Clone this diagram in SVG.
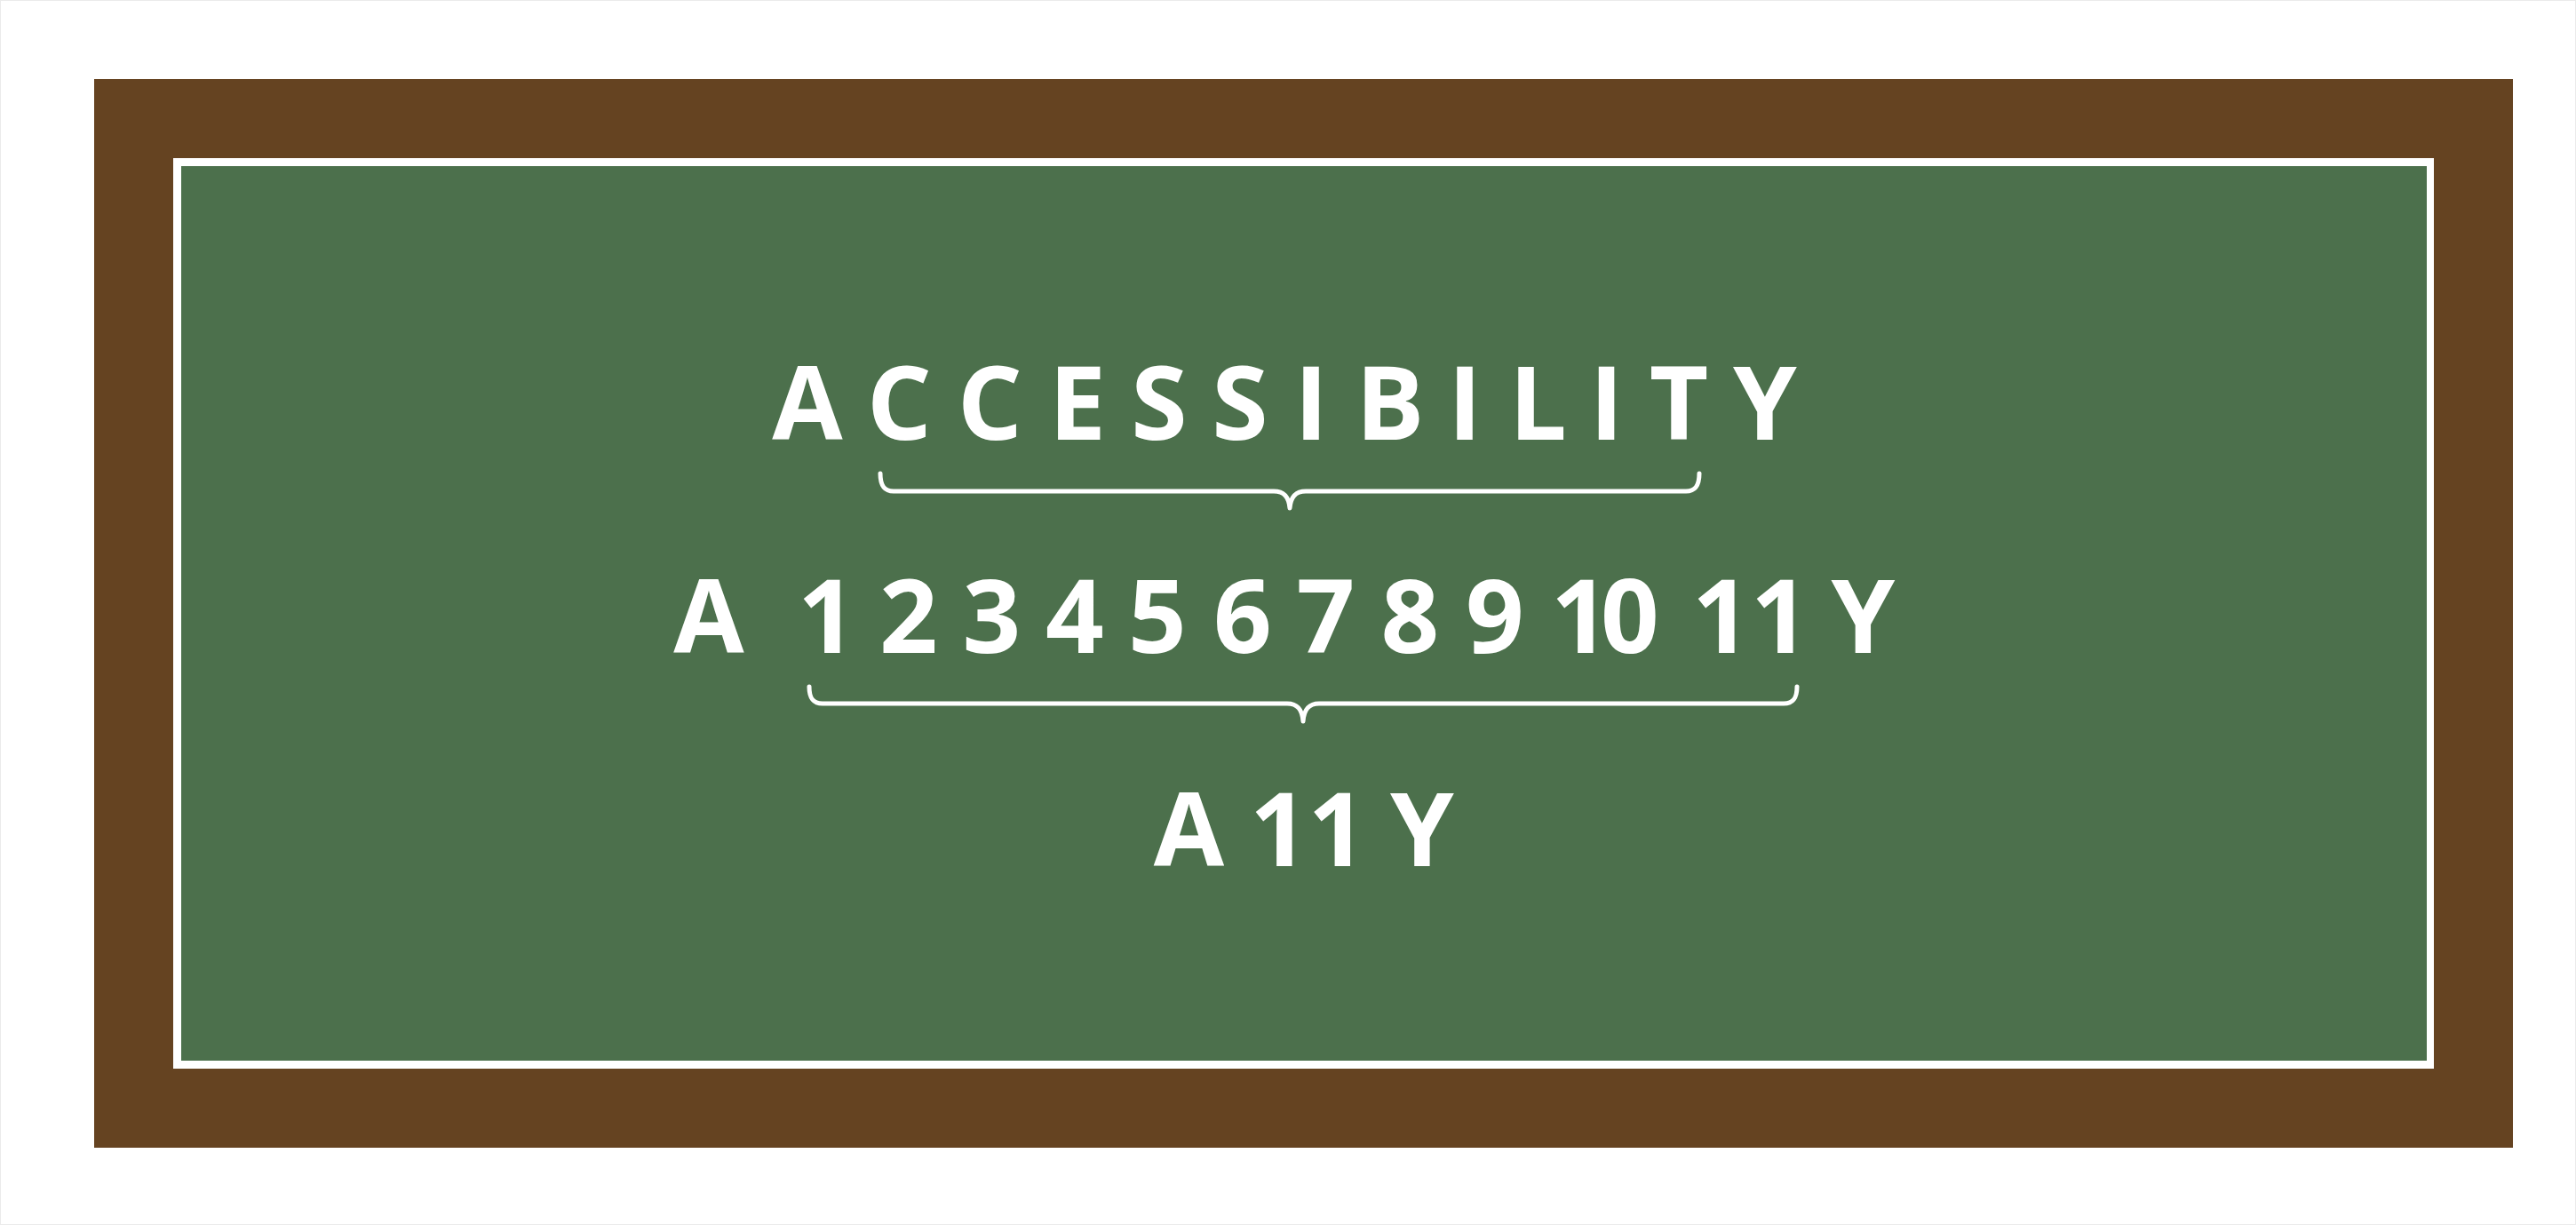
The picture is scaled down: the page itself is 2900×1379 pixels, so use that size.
<svg xmlns="http://www.w3.org/2000/svg" width="2900" height="1379" viewBox="0 0 2900 1379">
<style>
.t{font-family:"Open Sans","Noto Sans","Liberation Sans",sans-serif;font-weight:700;font-size:115px;fill:#ffffff;text-anchor:middle}
.br{fill:none;stroke:#ffffff;stroke-width:5;stroke-linecap:round;stroke-linejoin:round}
</style>
<rect x="0.5" y="0.5" width="2899" height="1378" fill="#ffffff" stroke="#ebebeb" stroke-width="1"/>
<g id="frame">
<rect x="106" y="89" width="2723" height="1203" fill="#654321"/>
<rect x="195" y="178" width="2545" height="1025" fill="#ffffff"/>
<rect x="204" y="187" width="2528" height="1007" fill="#4c704c"/>
</g>
<g id="word">
<text class="t" y="495" x="909 1012.5 1114.5 1213 1305 1396 1476 1565 1649 1731.5 1808.5 1890 1987">ACCESSIBILITY</text>
</g>
<g id="numbered">
<text class="t" y="735"><tspan x="798">A</tspan><tspan x="868"> </tspan><tspan x="931">1</tspan><tspan x="973"> </tspan><tspan x="1023">2</tspan><tspan x="1070"> </tspan><tspan x="1116.5">3</tspan><tspan x="1163"> </tspan><tspan x="1210">4</tspan><tspan x="1258"> </tspan><tspan x="1303">5</tspan><tspan x="1350"> </tspan><tspan x="1399">6</tspan><tspan x="1446"> </tspan><tspan x="1492.5">7</tspan><tspan x="1540"> </tspan><tspan x="1587.5">8</tspan><tspan x="1635"> </tspan><tspan x="1683">9</tspan><tspan x="1730"> </tspan><tspan x="1779 1835">10</tspan><tspan x="1887"> </tspan><tspan x="1938 2004">11</tspan><tspan x="2040"> </tspan><tspan x="2097.5">Y</tspan></text>
</g>
<g id="abbrev">
<text class="t" y="975"><tspan x="1338.5">A</tspan><tspan x="1395"> </tspan><tspan x="1440 1505.5">11</tspan><tspan x="1542"> </tspan><tspan x="1601">Y</tspan></text>
</g>
<g id="connectors">
<path class="br" d="M991,533 C991,546 995,553 1006,553 L1434,553 C1446,553 1451,560 1452,572 C1453,560 1458,553 1470,553 L1898,553 C1909,553 1913,546 1913,533"/>
<path class="br" d="M911,773 C911,786 915,792 926,792 L1449,792 C1461,792 1466,799 1467,812 C1468,799 1473,792 1485,792 L2008,792 C2019,792 2023,786 2023,773"/>
</g>
</svg>
